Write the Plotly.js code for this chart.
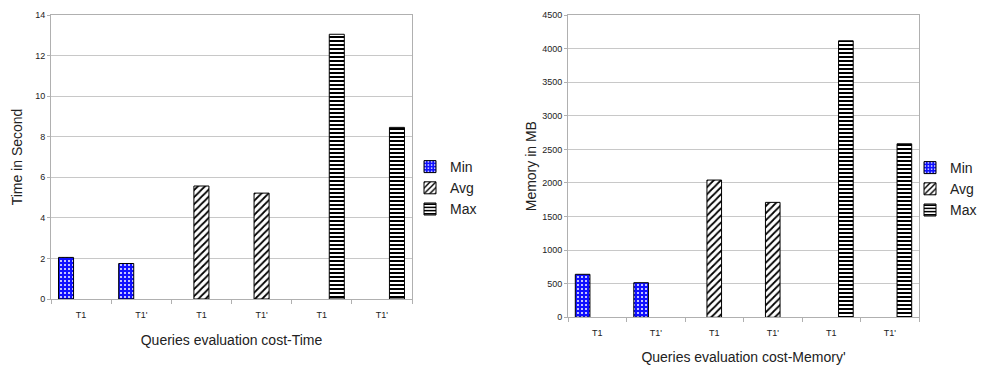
<!DOCTYPE html>
<html><head><meta charset="utf-8">
<script src="https://cdn.plot.ly/plotly-3.0.1.min.js"></script>
<style>html,body{margin:0;padding:0;background:#fff}#c{width:982px;height:365px}</style>
</head><body><div id="c"></div>
<script>
const categories = ["T1", "T1'", "T1", "T1'", "T1", "T1'"];
const positions = [0, 1, 2, 3, 4, 5];
const seriesNames = ["Min", "Avg", "Max"];
const timeMin = [2.05, 1.75, null, null, null, null];
const timeAvg = [null, null, 5.57, 5.22, null, null];
const timeMax = [null, null, null, null, 13.05, 8.46];
const memMin = [640, 515, null, null, null, null];
const memAvg = [null, null, 2043, 1711, null, null];
const memMax = [null, null, null, null, 4116, 2583];

const patterns = [
  {shape: '.', fgcolor: '#ffffff', bgcolor: '#1010ff', size: 4, solidity: 0.2, fillmode: 'replace'},
  {shape: '/', fgcolor: '#000000', bgcolor: '#ffffff', size: 5, solidity: 0.35, fillmode: 'replace'},
  {shape: '-', fgcolor: '#000000', bgcolor: '#ffffff', size: 4, solidity: 0.5, fillmode: 'replace'}
];
function mk(vals, i, xa, ya, leg) {
  return {type: 'bar', x: positions, y: vals, name: seriesNames[i], xaxis: xa, yaxis: ya, legend: leg,
    marker: {color: '#ffffff', pattern: patterns[i], line: {color: '#000', width: 1}}, hoverinfo: 'y'};
}
const data = [
  mk(timeMin, 0, 'x', 'y', 'legend'), mk(timeAvg, 1, 'x', 'y', 'legend'), mk(timeMax, 2, 'x', 'y', 'legend'),
  mk(memMin, 0, 'x2', 'y2', 'legend2'), mk(memAvg, 1, 'x2', 'y2', 'legend2'), mk(memMax, 2, 'x2', 'y2', 'legend2')
];
const fontF = 'Liberation Sans, Arial, sans-serif';
function xax(dom, title, anchor) {
  return {domain: dom, anchor: anchor, range: [-0.5, 5.5], tickmode: 'array', tickvals: positions, ticktext: categories,
    ticks: '', ticklabelstandoff: 7, showgrid: false, zeroline: false, showline: true, linecolor: '#b0b0b0', mirror: true,
    tickfont: {size: 9, color: '#222', family: fontF},
    minor: {tickmode: 'linear', tick0: 0.5, dtick: 1, ticks: 'outside', ticklen: 4, tickcolor: '#b0b0b0', showgrid: false},
    title: {text: title, font: {size: 14, color: '#222', family: fontF}, standoff: 16}, fixedrange: true};
}
function yax(dom, title, rng, dt, anchor, so) {
  return {domain: dom, range: rng, dtick: dt, tick0: 0, anchor: anchor, showgrid: true, gridcolor: '#c8c8c8',
    zeroline: false, showline: true, linecolor: '#b0b0b0', mirror: true, ticks: 'outside', ticklen: 3, tickcolor: '#b0b0b0',
    tickfont: {size: 9, color: '#222', family: fontF},
    title: {text: title, font: {size: 14, color: '#222', family: fontF}, standoff: so}, fixedrange: true};
}
const layout = {
  width: 982, height: 365, margin: {l: 0, r: 0, t: 0, b: 0}, paper_bgcolor: '#fff', plot_bgcolor: '#fff',
  barmode: 'group', bargap: 0.25, bargroupgap: 0, showlegend: true,
  font: {family: fontF},
  xaxis: xax([51/982, 412/982], 'Queries evaluation cost-Time', 'y'),
  yaxis: yax([66/365, 350/365], 'Time in Second', [0, 14], 2, 'x', 9),
  xaxis2: xax([568/982, 919/982], "Queries evaluation cost-Memory'", 'y2'),
  yaxis2: yax([47.7/365, 350/365], 'Memory in MB', [0, 4500], 500, 'x2', 2),
  legend: {x: 410/982, xanchor: 'left', y: 1 - 188/365, yanchor: 'middle',
    font: {size: 14, color: '#222'}, bgcolor: 'rgba(0,0,0,0)', itemwidth: 30, tracegroupgap: 0},
  legend2: {x: 1, xanchor: 'right', y: 1 - 189/365, yanchor: 'middle',
    font: {size: 14, color: '#222'}, bgcolor: 'rgba(0,0,0,0)', itemwidth: 30, tracegroupgap: 0}
};
Plotly.newPlot('c', data, layout, {displayModeBar: false, staticPlot: true});
</script></body></html>
